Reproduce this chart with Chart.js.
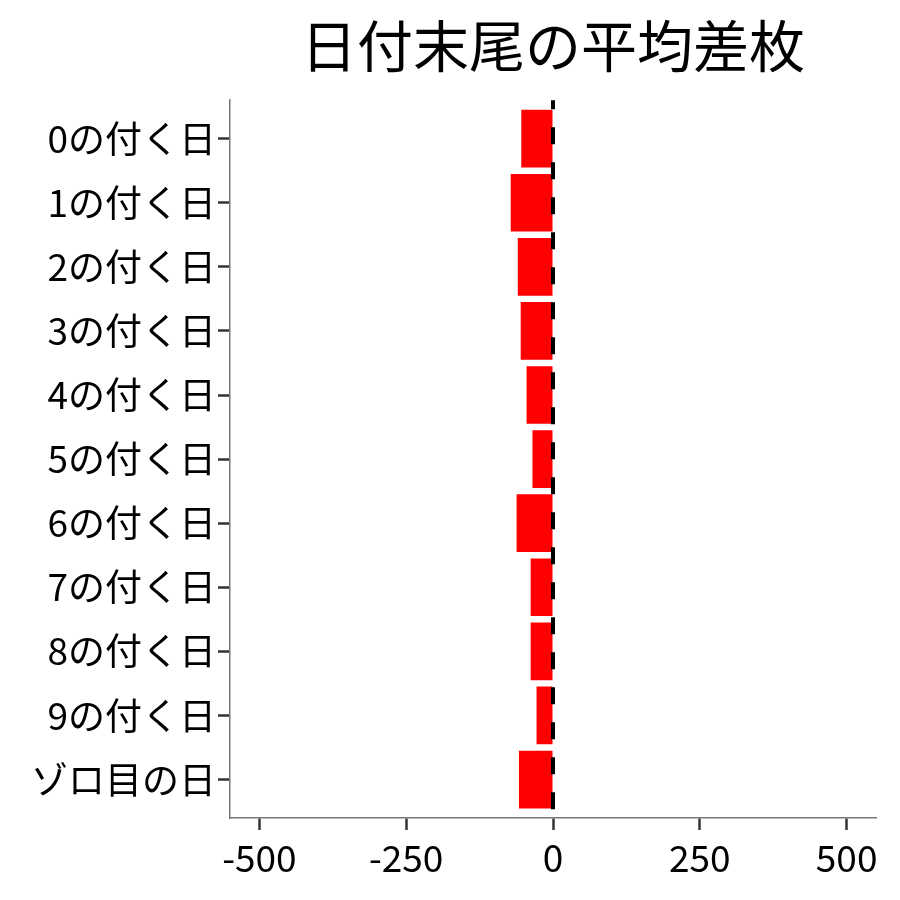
<!DOCTYPE html>
<html>
<head>
<meta charset="utf-8">
<script src="https://cdn.jsdelivr.net/npm/chart.js@4"></script>
<style>
  html, body { margin: 0; padding: 0; background: #fff; }
  #wrap { width: 900px; height: 900px; }
</style>
</head>
<body>
<div id="wrap"><canvas id="chart" width="900" height="900"></canvas></div>
<script>
// data
const categories = [
  "0の付く日", "1の付く日", "2の付く日", "3の付く日", "4の付く日",
  "5の付く日", "6の付く日", "7の付く日", "8の付く日", "9の付く日", "ゾロ目の日",
];
const avgDiff = [-54, -72, -60, -55, -45, -35, -62, -38, -38, -28, -58];
const xTicks = [-500, -250, 0, 250, 500];

const fontFamily = "'Noto Sans CJK JP', 'Noto Sans', sans-serif";

// dashed reference line at 0, drawn over the bars
const zeroLine = {
  id: "zeroLine",
  afterDatasetsDraw(chart) {
    const ctx = chart.ctx;
    const area = chart.chartArea;
    const x = chart.scales.x.getPixelForValue(0);
    ctx.save();
    ctx.strokeStyle = "#000";
    ctx.lineWidth = 4;
    ctx.setLineDash([17, 18]);
    ctx.lineDashOffset = 8;
    ctx.beginPath();
    ctx.moveTo(x, area.top);
    ctx.lineTo(x, area.bottom);
    ctx.stroke();
    ctx.restore();
  },
};

const chart = new Chart(document.getElementById("chart"), {
  type: "bar",
  data: {
    datasets: [
      {
        data: avgDiff.map((v, i) => ({ x: v, y: i })),
        backgroundColor: "#ff0000",
        borderWidth: 0,
        barPercentage: 0.9,
        categoryPercentage: 1.0,
      },
    ],
  },
  options: {
    indexAxis: "y",
    responsive: false,
    devicePixelRatio: 1,
    animation: false,
    layout: { padding: { left: 0, right: 24, top: 0, bottom: 0 } },
    plugins: {
      legend: { display: false },
      tooltip: { enabled: false },
      title: {
        display: true,
        text: "日付末尾の平均差枚",
        fullSize: false,
        color: "#000",
        font: { family: fontFamily, size: 56, weight: "normal", lineHeight: 1.2 },
        padding: { top: 12, bottom: 21 },
      },
    },
    scales: {
      x: {
        type: "linear",
        min: -550,
        max: 550,
        afterBuildTicks: (scale) => {
          scale.ticks = xTicks.map((v) => ({ value: v }));
        },
        afterFit: (scale) => {
          scale.height = 82;
        },
        ticks: {
          color: "#000",
          padding: 6,
          font: { family: fontFamily, size: 37 },
          callback: (v) => String(v),
        },
        grid: {
          drawOnChartArea: false,
          drawTicks: true,
          tickLength: 12,
          tickColor: "#333",
          tickWidth: 2.5,
        },
        border: { display: true, color: "#777", width: 1.5 },
      },
      y: {
        type: "linear",
        reverse: true,
        offset: false,
        min: -0.6,
        max: categories.length - 1 + 0.6,
        afterBuildTicks: (scale) => {
          scale.ticks = categories.map((c, i) => ({ value: i }));
        },
        afterFit: (scale) => {
          scale.width = 230;
        },
        ticks: {
          color: "#000",
          padding: 2,
          font: { family: fontFamily, size: 37 },
          callback: (v) => categories[v],
        },
        grid: {
          offset: false,
          drawOnChartArea: false,
          drawTicks: true,
          tickLength: 12,
          tickColor: "#333",
          tickWidth: 2.5,
        },
        border: { display: true, color: "#777", width: 1.5 },
      },
    },
  },
  plugins: [zeroLine],
});
</script>
</body>
</html>
